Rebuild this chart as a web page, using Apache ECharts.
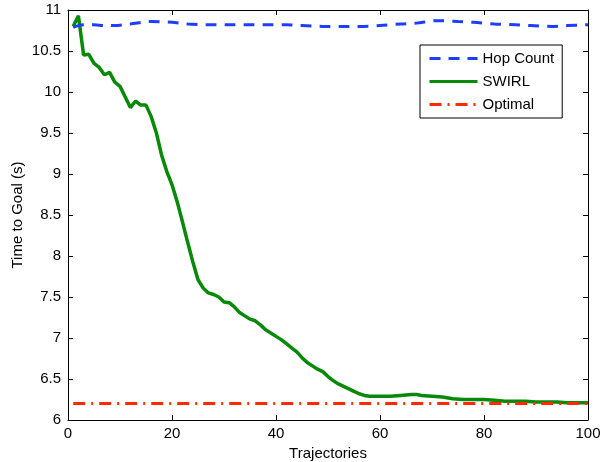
<!DOCTYPE html>
<html lang="en">
<head>
    <meta charset="UTF-8">
    <title>Time to Goal</title>
    <script src="https://cdn.jsdelivr.net/npm/echarts@6/dist/echarts.min.js"></script>
    <style>
    body { margin: 0; background: #fff; }
    #chart { width: 602px; height: 462px; }
    </style>
</head>
<body>
<div id="chart"></div>
<script>
    // values
    var hopX = [1, 3, 5, 7, 9, 12, 16, 20, 23, 27, 31, 35, 38, 42, 45, 49, 53, 56, 60, 64, 67, 71, 75, 78, 82, 86, 89, 93, 96, 100];
    var hopY = [10.79, 10.82, 10.82, 10.81, 10.81, 10.83, 10.86, 10.85, 10.83, 10.82, 10.82, 10.82, 10.82, 10.82, 10.81, 10.80, 10.80, 10.80, 10.81, 10.83, 10.84, 10.87, 10.86, 10.85, 10.83, 10.82, 10.81, 10.80, 10.81, 10.82];

    var swirlX = [1, 2, 3, 4, 5, 6, 7, 8, 9, 10, 11, 12, 13, 14, 15, 16, 17, 18, 19, 20,
        21, 22, 23, 24, 25, 26, 27, 28, 29, 30, 31, 32, 33, 34, 35, 36, 37, 38, 39, 40,
        41, 42, 43, 44, 45, 46, 47, 48, 49, 50, 51, 52, 53, 54, 55, 56, 57, 58, 59, 60,
        62, 64, 66, 67, 68, 70, 72, 74, 76, 78, 80, 82, 84, 86, 88, 90, 92, 94, 96, 98, 100];
    var swirlY = [10.80, 10.93, 10.45, 10.46, 10.35, 10.30, 10.21, 10.24, 10.12, 10.07,
        9.94, 9.81, 9.89, 9.84, 9.84, 9.70, 9.50, 9.23, 9.03, 8.87,
        8.66, 8.42, 8.17, 7.93, 7.71, 7.61, 7.55, 7.53, 7.50, 7.44,
        7.43, 7.38, 7.31, 7.27, 7.23, 7.21, 7.16, 7.10, 7.06, 7.02,
        6.98, 6.93, 6.88, 6.83, 6.76, 6.70, 6.66, 6.62, 6.59, 6.53,
        6.48, 6.44, 6.41, 6.38, 6.35, 6.32, 6.30, 6.29, 6.29, 6.29,
        6.29, 6.30, 6.31, 6.31, 6.30, 6.29, 6.28, 6.26, 6.25, 6.25,
        6.25, 6.24, 6.23, 6.23, 6.23, 6.22, 6.22, 6.22, 6.21, 6.21, 6.21];

    var optX = [1, 100];
    var optY = [6.2, 6.2];

    var xTicks = [0, 20, 40, 60, 80, 100];
    var yTicks = [6, 6.5, 7, 7.5, 8, 8.5, 9, 9.5, 10, 10.5, 11];

    function pairs(xs, ys) {
        var out = [];
        for (var i = 0; i < xs.length; i++) {
            out.push([xs[i], ys[i]]);
        }
        return out;
    }

    var font = "'Liberation Sans', Arial, Helvetica, sans-serif";
    var chart = echarts.init(document.getElementById('chart'));

    var baseX = {
        type: 'value',
        min: xTicks[0],
        max: xTicks[xTicks.length - 1],
        interval: 20,
        axisLine: { onZero: false, lineStyle: { color: '#000', width: 1 } },
        axisTick: { inside: true, length: 5, lineStyle: { color: '#000' } },
        splitLine: { show: false }
    };
    var baseY = {
        type: 'value',
        min: yTicks[0],
        max: yTicks[yTicks.length - 1],
        interval: 0.5,
        axisLine: { onZero: false, lineStyle: { color: '#000', width: 1 } },
        axisTick: { inside: true, length: 5, lineStyle: { color: '#000' } },
        splitLine: { show: false }
    };

    var option = {
        animation: false,
        backgroundColor: '#fff',
        textStyle: { fontFamily: font },
        grid: { left: 68, right: 14, top: 10, bottom: 42, outerBoundsMode: 'none', containLabel: false },
        legend: {
            orient: 'vertical',
            left: 420,
            top: 45,
            width: 143,
            padding: [6, 8, 6, 8],
            itemWidth: 48,
            itemHeight: 14,
            itemGap: 8,
            borderColor: '#000',
            borderWidth: 1,
            backgroundColor: '#fff',
            itemStyle: { opacity: 0 },
            lineStyle: { width: 3 },
            textStyle: { fontFamily: font, fontSize: 15, color: '#000' },
            data: ['Hop Count', 'SWIRL', 'Optimal']
        },
        xAxis: [
            Object.assign({}, baseX, {
                position: 'bottom',
                name: 'Trajectories',
                nameLocation: 'middle',
                nameGap: 26,
                nameTextStyle: { fontFamily: font, fontSize: 15, color: '#000' },
                axisLabel: { fontFamily: font, fontSize: 15, color: '#000', margin: 6 }
            }),
            Object.assign({}, baseX, { position: 'top', axisLabel: { show: false } })
        ],
        yAxis: [
            Object.assign({}, baseY, {
                position: 'left',
                name: 'Time to Goal (s)',
                nameLocation: 'middle',
                nameGap: 43,
                nameMoveOverlap: false,
                nameTextStyle: { fontFamily: font, fontSize: 15, color: '#000' },
                axisLabel: { fontFamily: font, fontSize: 15, color: '#000', margin: 7 }
            }),
            Object.assign({}, baseY, { position: 'right', axisLabel: { show: false } })
        ],
        series: [
            {
                name: 'Hop Count',
                type: 'line',
                smooth: 0.3,
                showSymbol: false,
                symbol: 'none',
                data: pairs(hopX, hopY),
                itemStyle: { color: '#1f3dff' },
                lineStyle: { color: '#1f3dff', width: 3, type: [11, 8] },
                z: 3
            },
            {
                name: 'SWIRL',
                type: 'line',
                showSymbol: false,
                symbol: 'none',
                data: pairs(swirlX, swirlY),
                itemStyle: { color: '#078a07' },
                lineStyle: { color: '#078a07', width: 3.5 },
                z: 2
            },
            {
                name: 'Optimal',
                type: 'line',
                showSymbol: false,
                symbol: 'none',
                data: pairs(optX, optY),
                itemStyle: { color: '#ff2a00' },
                lineStyle: { color: '#ff2a00', width: 3, type: [12, 6, 2, 6] },
                z: 4
            }
        ]
    };
    chart.setOption(option);
</script>
</body>
</html>
